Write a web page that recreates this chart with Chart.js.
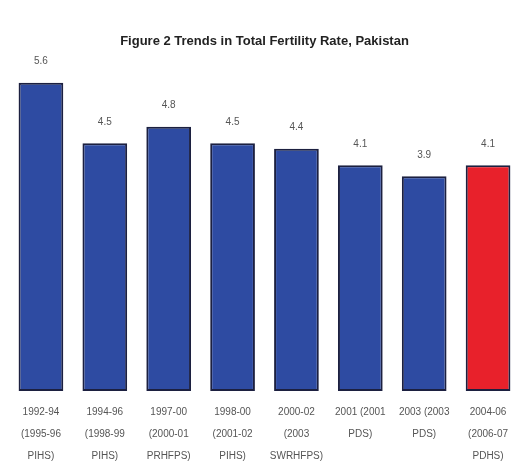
<!DOCTYPE html>
<html>
<head>
<meta charset="utf-8">
<script src="https://cdn.jsdelivr.net/npm/chart.js@4/dist/chart.umd.min.js"></script>
<style>
  html, body { margin: 0; padding: 0; background: #fff; }
  #wrap { width: 520px; height: 470px; position: relative; }
</style>
</head>
<body>
<div id="wrap"><canvas id="chart"></canvas></div>
<script>
const periods = [
  ['1992-94', '(1995-96', 'PIHS)'],
  ['1994-96', '(1998-99', 'PIHS)'],
  ['1997-00', '(2000-01', 'PRHFPS)'],
  ['1998-00', '(2001-02', 'PIHS)'],
  ['2000-02', '(2003', 'SWRHFPS)'],
  ['2001 (2001', 'PDS)'],
  ['2003 (2003', 'PDS)'],
  ['2004-06', '(2006-07', 'PDHS)']
];
const tfr = [5.6, 4.5, 4.8, 4.5, 4.4, 4.1, 3.9, 4.1];
const barColors = ['#2E4BA2', '#2E4BA2', '#2E4BA2', '#2E4BA2', '#2E4BA2', '#2E4BA2', '#2E4BA2', '#E8212B'];

const FONT = "'Liberation Sans', Arial, sans-serif";
const TEXT = '#555555';

// value labels drawn above each bar
const valueLabels = {
  id: 'valueLabels',
  afterDatasetsDraw(chart) {
    const ctx = chart.ctx;
    const meta = chart.getDatasetMeta(0);
    ctx.save();
    ctx.font = '10px ' + FONT;
    ctx.fillStyle = TEXT;
    ctx.textAlign = 'center';
    ctx.textBaseline = 'middle';
    meta.data.forEach((bar, i) => {
      ctx.fillText(tfr[i].toFixed(1), bar.x, bar.y - 21);
    });
    ctx.restore();
  }
};

new Chart(document.getElementById('chart'), {
  type: 'bar',
  data: {
    labels: periods,
    datasets: [{
      data: tfr,
      backgroundColor: barColors,
      borderColor: '#1C2040',
      borderWidth: 2,
      borderSkipped: false,
      barPercentage: 0.7,
      categoryPercentage: 1
    }]
  },
  options: {
    responsive: true,
    maintainAspectRatio: false,
    animation: false,
    layout: { padding: { left: 9, right: 0, top: 0, bottom: -7 } },
    plugins: {
      legend: { display: false },
      tooltip: { enabled: false },
      title: {
        display: true,
        text: 'Figure 2 Trends in Total Fertility Rate, Pakistan',
        color: '#222222',
        font: { family: FONT, size: 13, weight: 'bold' },
        padding: { top: 34, bottom: 11 }
      }
    },
    scales: {
      x: {
        grid: { display: false, drawTicks: false },
        border: { display: false },
        ticks: {
          color: TEXT,
          font: { family: FONT, size: 10, lineHeight: 2.2 },
          padding: 10,
          maxRotation: 0,
          autoSkip: false
        }
      },
      y: {
        display: false,
        min: 0,
        max: 6
      }
    }
  },
  plugins: [valueLabels]
});
</script>
</body>
</html>
